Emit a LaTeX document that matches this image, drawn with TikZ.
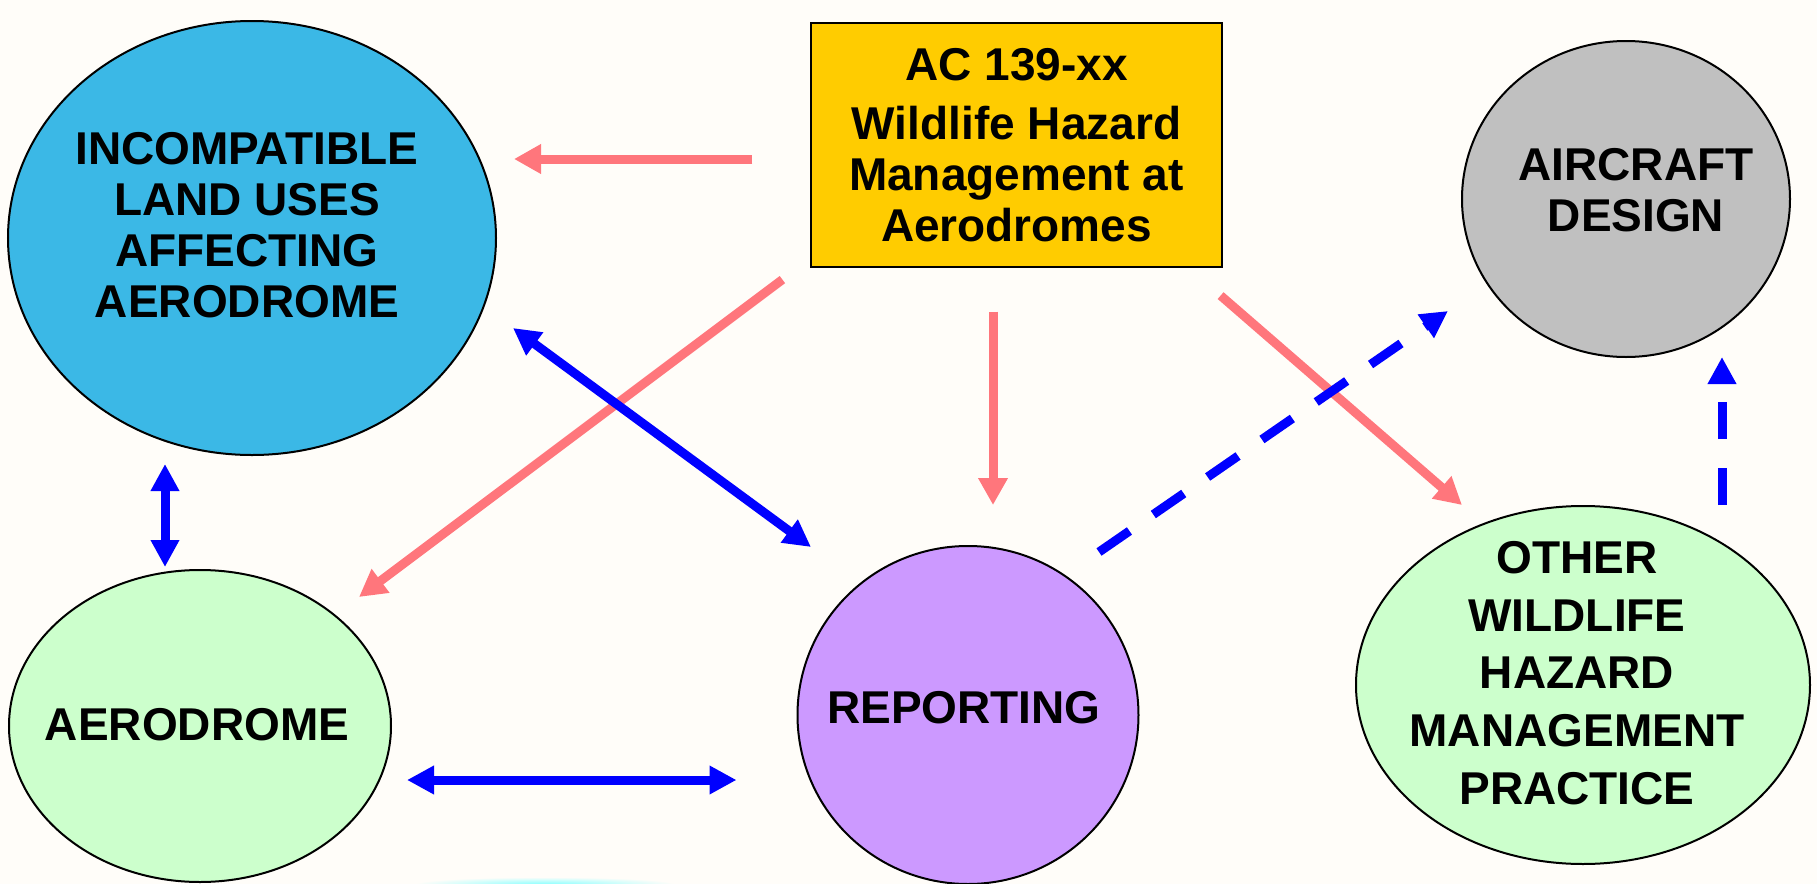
\documentclass[tikz,border=0pt]{standalone}
\usepackage{fontspec}
\setmainfont{Liberation Sans}
\usetikzlibrary{shapes.geometric, arrows.meta, calc}
\definecolor{landblue}{RGB}{59,184,230}
\definecolor{acyellow}{RGB}{255,204,0}
\definecolor{craftgray}{RGB}{192,192,192}
\definecolor{palegreen}{RGB}{204,255,204}
\definecolor{reppurple}{RGB}{204,153,255}
\definecolor{hatchred}{RGB}{255,118,124}
\definecolor{paper}{RGB}{255,253,249}

\tikzset{
  blob/.style={ellipse, draw=black, line width=1pt, inner sep=0pt},
  lbl/.style={font=\fontsize{23}{25.5}\selectfont\bfseries, align=center, inner sep=0pt},
  redarr/.style={draw=hatchred, line width=4.5pt, -{Triangle[width=14pt,length=13.5pt]}},
  bluearr/.style={draw=blue, line width=4.5pt, {Triangle[width=13.5pt,length=13.5pt]}-{Triangle[width=13.5pt,length=13.5pt]}},
  dasharr/.style={draw=blue, line width=4.5pt, dash pattern=on 18.5pt off 14.5pt, -{Triangle[width=13.5pt,length=13.5pt]}}
}

\begin{document}
\begin{tikzpicture}[x=0.5pt, y=-0.5pt]
% Page
\path[use as bounding box, fill=paper] (0,0) rectangle (1817,884);
\shade[inner color=cyan!45, outer color=paper] (545,884) ellipse (130 and 7);

% Circles and box
\node[blob, fill=landblue, minimum width=244pt, minimum height=217pt] (land) at (252,238) {};
\node[lbl] (landtxt) at ($(land)+(-5,-13)$) {INCOMPATIBLE\\LAND USES\\AFFECTING\\AERODROME};

\node[draw=black, line width=0.6pt, fill=acyellow, minimum width=205.5pt, minimum height=122pt, lbl] (ac) at (1016.5,145)
  {AC 139-xx\\[4pt]Wildlife Hazard\\Management at\\Aerodromes};

\node[blob, fill=craftgray, minimum width=164pt, minimum height=158pt] (craft) at (1626,199) {};
\node[lbl] (crafttxt) at ($(craft)+(10,-9)$) {AIRCRAFT\\DESIGN};

\node[blob, fill=palegreen, minimum width=191pt, minimum height=156pt] (aero) at (200,726) {};
\node[lbl] (aerotxt) at ($(aero)+(-3,-1)$) {AERODROME};

\node[blob, fill=reppurple, minimum width=170.5pt, minimum height=169pt] (rep) at (968,715) {};
\node[lbl] (reptxt) at ($(rep)+(-4,-7)$) {REPORTING};

\node[blob, fill=palegreen, minimum width=227pt, minimum height=179pt] (other) at (1583,685) {};
\node[lbl, font=\fontsize{23}{28.9}\selectfont\bfseries] (othertxt) at ($(other)+(-6,-12)$)
  {OTHER\\WILDLIFE\\HAZARD\\MANAGEMENT\\PRACTICE};

% Red arrows from the AC
\draw[redarr] ($(ac.west)+(-58,14)$) -- ($(land.east)+(17,-79)$);
\draw[redarr] ($(ac.south west)+(-28,12)$) -- ($(aero.center)+(159,-129)$);
\draw[redarr] ($(ac.south)+(-23.5,44)$) -- ($(rep.north)+(25,-40)$);
\draw[redarr] ($(ac.south east)+(-2,28)$) -- ($(other.north)+(-121,0)$);

% Blue links
\draw[bluearr] ($(land.center)+(261,90)$) -- ($(rep.north)+(-157,2)$);
\draw[bluearr] ($(land.south)+(-87,8)$) -- ($(aero.north)+(-35,-2)$);
\draw[bluearr] ($(aero.east)+(15,54)$) -- ($(rep.west)+(-60,65)$);
\draw[dasharr] ($(rep.center)+(131,-163)$) -- ($(craft.center)+(-178,112)$);
\draw[dasharr] ($(other.north)+(139,0)$) -- ($(craft.south)+(96,-1)$);
\end{tikzpicture}
\end{document}
